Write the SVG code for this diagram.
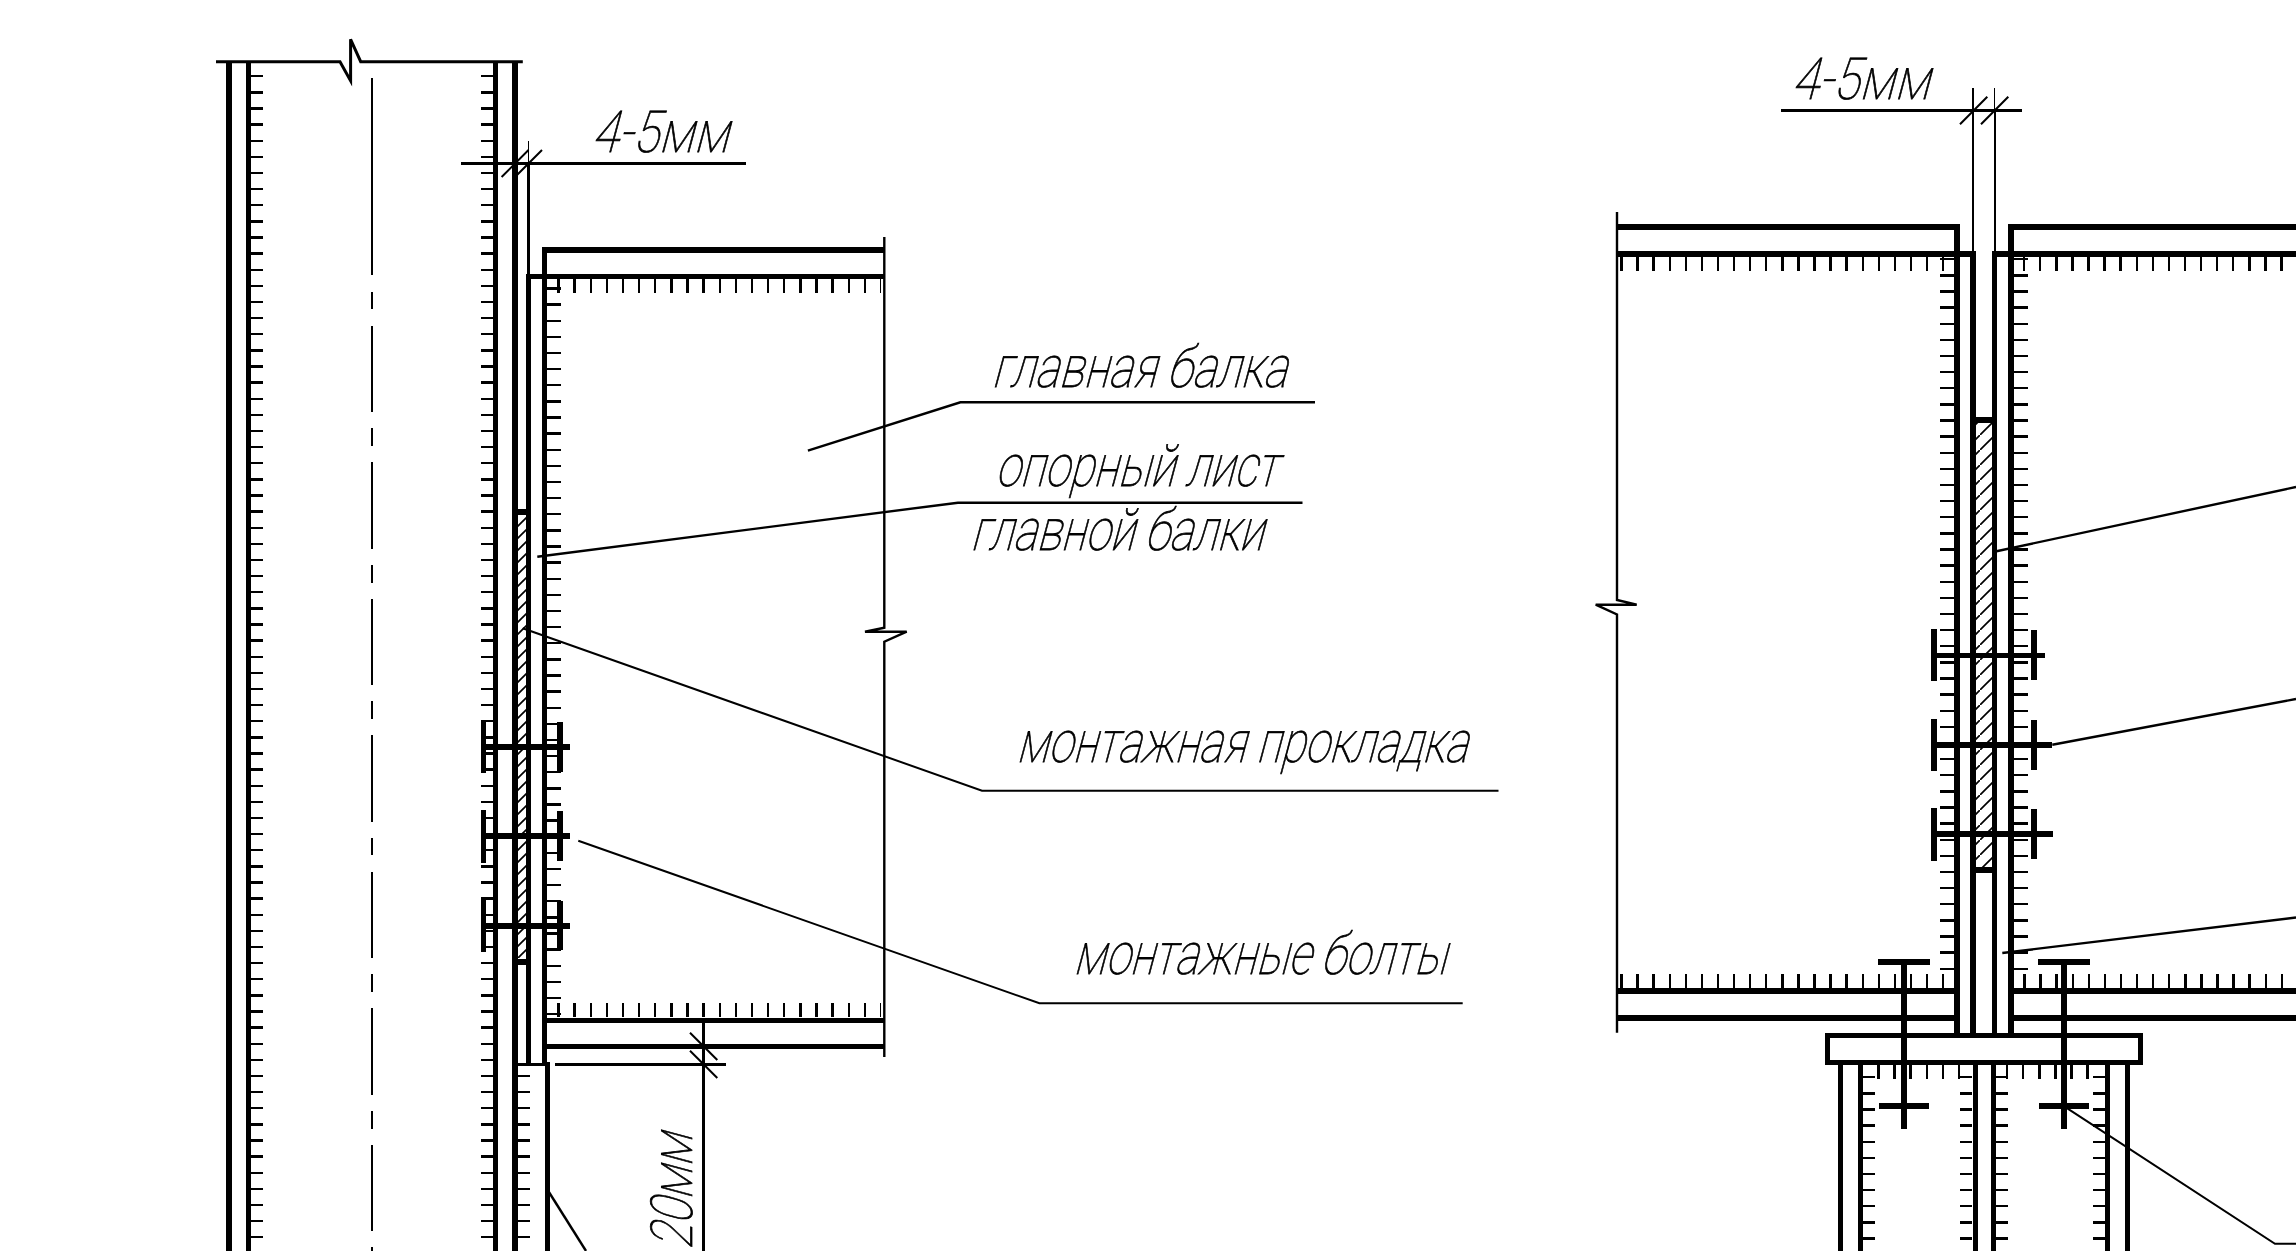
<svg xmlns="http://www.w3.org/2000/svg" width="2296" height="1251" viewBox="0 0 2296 1251">
<style>
path{fill:none;stroke:#000}
.s{shape-rendering:crispEdges}
.w6{stroke-width:6}.w5{stroke-width:5}.w3{stroke-width:3}.w2{stroke-width:2}.w1{stroke-width:1.2}
.l{stroke-width:2.4}
.t{stroke-dasharray:2.4 13.725;shape-rendering:crispEdges}
.tx{stroke-dasharray:2.4 13.68;shape-rendering:crispEdges}
.t12{stroke-width:12}.t14{stroke-width:14}
text{font-family:Roboto,"Liberation Sans",sans-serif;font-weight:100;font-size:58px;fill:#000;stroke:#000;stroke-width:.8}
</style>
<defs>
<pattern id="hL" width="12" height="12" patternUnits="userSpaceOnUse"><path d="M-1 13L13 -1" stroke-width="1.7"/></pattern>
<pattern id="hR" width="15" height="15" patternUnits="userSpaceOnUse"><path d="M-1 16L16 -1" stroke-width="1.7"/></pattern>
</defs>
<rect width="2296" height="1251" fill="#fff"/>

<g id="left-column">
<path class="w6 s" d="M229 61V1251M515 61V1251"/>
<path class="w5 s" d="M248.5 61V1251M495.5 61V1251"/>
<path class="w3" d="M216 61.7H340L350.6 80.7V39.3L360.7 61.7H522.8"/>
<path class="w2 s" d="M372 78V275M372 292V309M372 326V412M372 428V446M372 462V549M372 565V583M372 599V685M372 701V719M372 735V822M372 838V855M372 872V958M372 974V992M372 1008V1095M372 1111V1129M372 1145V1231M372 1247V1251"/>
<path class="t t12" d="M257 75V1238M487 75V1238"/>
<path class="t t12" d="M524 1074.75V1238"/>
<path class="w5 s" d="M547.3 1062V1251"/>
<path class="w3 s" d="M512 1064.3H550"/>
</g>

<g id="left-beam">
<path class="w6 s" d="M542 250H884"/>
<path class="w5 s" d="M527 276.7H884M542 1020H884M542 1046.3H884M544.5 248V1064M528.5 274V1064"/>
<path class="w3 s" d="M528.5 163V274"/>
<path class="w1 s" d="M528.5 141V163"/>
<path class="t t14" d="M557.3 286H881M557.3 1010H881"/>
<path class="t t14" d="M554 287.3V1015"/>
<path class="l" d="M884.3 237V627.7L865 631.7H906.7L884.3 641.7V1057"/>
</g>

<g id="left-shim">
<rect x="518" y="515" width="8" height="443" fill="url(#hL)"/>
<path class="w6 s" d="M512 511.5H531M512 962H531"/>
</g>

<g id="left-bolts">
<path class="w5 s" d="M483.5 720V772.7M483.5 810V862.7M483.5 896.7V951.7"/>
<path class="w6 s" d="M560 722V772.3M560 811V860.7M560 900.7V950M481 747H570M481 836.3H570M481 925.7H570"/>
</g>

<g id="right-beams">
<path class="l" d="M1617 212V600L1636.7 604.7H1595.7L1617 614.5V1032.7"/>
<path class="w6 s" d="M1617 226.7H1960M2008 226.7H2296M1617 254H1976M1992 254H2296M1957 224V1034M2011 224V1034M1973 254V1034M1617 990.7H1957M2011 990.7H2296M1617 1017.7H1957M2011 1017.7H2296"/>
<path class="w5 s" d="M1994.5 254V1034"/>
<path class="w2 s" d="M1973 110V254M1994.5 110V254"/>
<path class="w1 s" d="M1973 88V110M1994.5 88V110"/>
<path class="t t14" d="M1947 258V969.5M2021 258V969.5"/>
<path class="tx t14" d="M1620.3 263.7H1943.5M2023 263.7H2296M1620.3 981H1943.5M2023.3 981H2296"/>
</g>

<g id="right-shim">
<rect x="1976" y="422" width="16" height="445" fill="url(#hR)"/>
<path class="w6 s" d="M1970 419.7H1997M1970 870H1997"/>
</g>

<g id="right-bolts">
<path class="w6 s" d="M1934 629V680.7M1934 719V771M1934 808V861M2034 630V680M2034 720V770M2034 809V859M1934 744.7H2052M1934 834.3H2053"/>
<path class="w5 s" d="M1934 655.3H2045"/>
</g>

<g id="base-plate">
<rect x="1827.4" y="1035.4" width="313.2" height="27.4" fill="#fff" stroke="#000" stroke-width="4.8" shape-rendering="crispEdges"/>
</g>

<g id="lower-columns">
<path class="w5 s" d="M1840.5 1065V1251M1860.5 1065V1251M1975.3 1065V1251M1993 1065V1251M2107.5 1065V1251M2127 1065V1251"/>
<path class="tx t14" d="M1877.3 1072H1960M2006 1072H2089"/>
<path class="t t12" d="M1869 1076V1240M1966.3 1076V1240M2001.5 1076V1240M2099 1076V1240"/>
</g>

<g id="anchor-bolts">
<path class="w6 s" d="M1904 962V1129M2064 962V1129M1878 962H1930M2038 962H2090M1879 1106H1929M2039 1106H2089"/>
</g>

<g id="dimensions">
<path class="w3 s" d="M460.8 163.3H746.4M555 1064.3H726M1781 110H2022"/>
<path class="w3 s" d="M703.3 1022V1251"/>
<path class="w2" d="M501.6 177L528.5 150M515 177L542 150M690 1032.7L717.3 1060M690 1050.7L717.3 1078M1960 124.3L1987.3 96.7M1981 124.3L2008.3 96.7"/>
</g>

<g id="leaders">
<path class="l" d="M807.9 450.7L960.4 402.3H1315"/>
<path class="l" d="M537.3 556.7L957.9 502.7H1302.5"/>
<path class="w2" d="M522.7 628.3L982 790.7H1498.5"/>
<path class="w2" d="M578.3 840.7L1039.4 1003.3H1462.7"/>
<path class="l" d="M547 1189L586 1251"/>
<path class="l" d="M1993 552L2296 487"/>
<path class="l" d="M2052.3 744.7L2296 699"/>
<path class="l" d="M2002.3 953L2296 917.5"/>
<path class="w2" d="M2067.3 1108.3L2275 1243.8H2296"/>
</g>

<g id="labels">
<text transform="translate(591,151.7) skewX(-15)" textLength="137" lengthAdjust="spacingAndGlyphs">4-5мм</text>
<text transform="translate(1791,99.3) skewX(-15)" textLength="138" lengthAdjust="spacingAndGlyphs">4-5мм</text>
<text transform="translate(991.3,387.3) skewX(-15)" textLength="295" lengthAdjust="spacingAndGlyphs">главная балка</text>
<text transform="translate(995,485.7) skewX(-15)" textLength="282" lengthAdjust="spacingAndGlyphs">опорный лист</text>
<text transform="translate(970,550) skewX(-15)" textLength="293" lengthAdjust="spacingAndGlyphs">главной балки</text>
<text transform="translate(1016,761.7) skewX(-15)" textLength="451" lengthAdjust="spacingAndGlyphs">монтажная прокладка</text>
<text transform="translate(1073,974.3) skewX(-15)" textLength="373" lengthAdjust="spacingAndGlyphs">монтажные болты</text>
<text transform="translate(691.7,1250) rotate(-90) skewX(-15)" textLength="116" lengthAdjust="spacingAndGlyphs">20мм</text>
</g>
</svg>
